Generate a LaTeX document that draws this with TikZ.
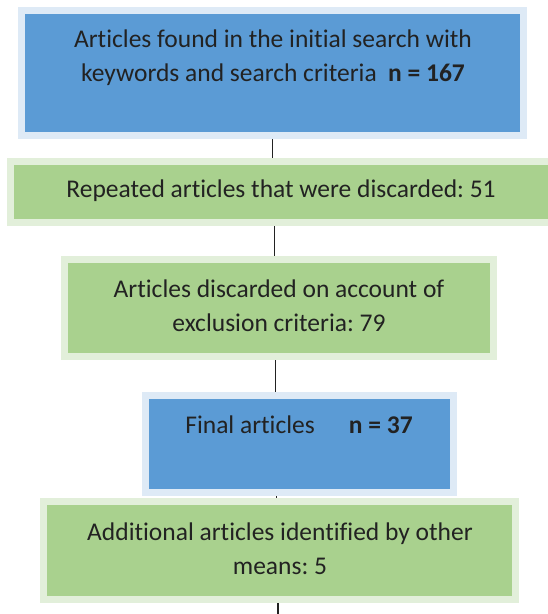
\documentclass[tikz,border=0pt]{standalone}
\usepackage{fontspec}
\setmainfont{Carlito}[Ligatures={NoCommon}]
\frenchspacing
\definecolor{bluefill}{HTML}{5B9BD5}
\definecolor{blueedge}{HTML}{DEEAF6}
\definecolor{greenfill}{HTML}{A9D18E}
\definecolor{greenedge}{HTML}{E2EFDA}
\definecolor{txt}{HTML}{222222}
\tikzset{
  box/.style={rectangle, inner sep=0pt, outer sep=3.5pt, line width=7pt},
  bluebox/.style={box, fill=bluefill, draw=blueedge},
  greenbox/.style={box, fill=greenfill, draw=greenedge},
  label/.style={inner sep=0pt, text=txt, align=center, font=\fontsize{25.5}{34}\selectfont},
  link/.style={draw=txt, line width=1.3pt}
}
\begin{document}
\begin{tikzpicture}[x=1pt,y=-1pt]
\useasboundingbox (0,0) rectangle (548,614);
\node[bluebox, minimum width=502pt, minimum height=125pt] (b1) at (272.5,73) {};
\node[greenbox, minimum width=542pt, minimum height=61pt] (b2) at (281.5,192) {};
\node[greenbox, minimum width=429pt, minimum height=97pt] (b3) at (279,308) {};
\node[bluebox, minimum width=308pt, minimum height=97pt] (b4) at (299.5,444) {};
\node[greenbox, minimum width=472pt, minimum height=98pt] (b5) at (279.5,550.5) {};

\node[label] (t1) at (273,57.5) {Articles found in the initial search with\\keywords and search criteria\ \ \textbf{n = 167}};
\node[label] (t2) at (281,190.5) {Repeated articles that were discarded: 51};
\node[label] (t3) at (279,305.5) {Articles discarded on account of\\exclusion criteria: 79};
\node[label] (t4) at (299,424.5) {Final articles\hspace{34pt}\textbf{n = 37}};
\node[label] (t5) at (280,548.5) {Additional articles identified by other\\means: 5};

\coordinate (end) at (278,614);
\draw[link] (b1.south) -- (b1.south |- b2.north);
\draw[link] ([xshift=2pt]b2.south -| b1.south) -- ([xshift=2pt]b3.north -| b1.south);
\draw[link] ([xshift=3pt]b3.south -| b1.south) -- ([xshift=3pt]b4.north -| b1.south);
\draw[link] ([xshift=4pt]b4.south -| b1.south) -- ([xshift=4pt]b5.north -| b1.south);
\draw[link] ([xshift=5.5pt]b5.south -| b1.south) -- (end);
\end{tikzpicture}
\end{document}
